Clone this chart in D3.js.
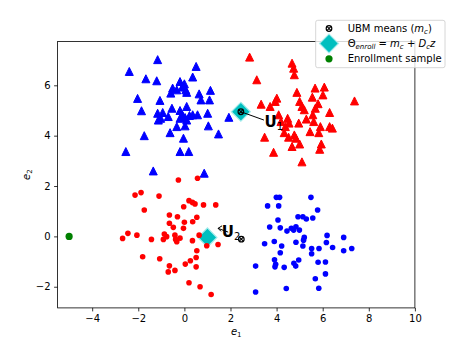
<!DOCTYPE html>
<html><head><meta charset="utf-8">
<script src="https://cdn.jsdelivr.net/npm/d3@7"></script>
<style>
body{margin:0;background:#fff;}
text{font-family:"DejaVu Sans",sans-serif;}
</style></head>
<body><svg id="c" width="461" height="346"></svg>
<script>
const blueTriangles = [[-1.16,7.02],[-2.39,6.55],[-1.67,6.26],[-1.20,6.18],[0.51,6.75],[0.36,6.33],[-0.19,6.15],[0,6.06],[-0.51,5.89],[-0.33,5.82],[-0.59,5.69],[0.06,5.82],[-0.09,5.93],[0.10,5.72],[0.64,5.66],[1.13,5.80],[1.09,5.42],[0.72,5.42],[-2.03,5.48],[-1.06,5.40],[-1.86,4.99],[-1.16,4.89],[-0.94,4.92],[-1.03,4.69],[-0.70,4.76],[-0.54,5.09],[-0.19,5.0],[0.10,5.16],[-0.09,4.83],[-0.19,4.69],[0.03,4.72],[-0.33,4.36],[0.03,4.39],[0.36,4.83],[0.57,4.83],[1.01,4.89],[1.04,4.39],[1.93,4.73],[1.48,4.07],[-0.62,4.12],[-1.74,4.0],[-0.04,3.90],[-0.19,3.37],[0.19,3.37],[-2.54,3.37],[-1.35,2.60],[0.86,2.51],[-1.13,4.62],[0.10,4.62],[0.22,4.80]];
const redTriangles = [[2.83,7.12],[4.67,6.88],[4.74,6.68],[4.77,6.42],[3.14,6.22],[5.67,5.89],[6.07,5.93],[6.01,5.62],[4.88,5.72],[5.55,5.53],[7.38,5.38],[3.33,5.25],[3.72,5.16],[4.01,5.49],[3.94,5.36],[5.0,5.36],[5.1,5.16],[5.20,5.03],[5.80,5.27],[5.68,5.09],[4.09,4.83],[4.48,4.69],[4.54,4.50],[4.38,4.36],[4.19,4.56],[4.96,4.50],[5.29,4.66],[5.57,4.83],[5.61,4.56],[6.30,4.92],[5.90,4.36],[6.30,4.36],[6.42,4.30],[5.45,4.16],[5.83,4.12],[4.33,4.12],[4.52,3.94],[4.77,4.03],[4.84,3.90],[3.48,3.94],[4.67,3.57],[5.0,3.67],[5.94,3.67],[5.87,3.46],[3.87,3.34],[5.1,2.96]];
const redDots = [[-0.26,2.24],[0.57,2.31],[-2.14,1.64],[-1.88,1.74],[-1.10,1.60],[-1.74,1.05],[0.2,1.42],[0.35,1.35],[0.46,1.29],[-0.03,1.18],[0.83,1.25],[1.36,1.25],[-0.65,0.85],[-0.30,0.78],[0.54,0.76],[0,0.56],[0.36,0.58],[-0.65,0.52],[-0.48,0.36],[-0.04,0.32],[-2.45,0.12],[-2.06,0.05],[-2.68,-0.08],[-1.43,-0.12],[-0.87,0.09],[-0.77,-0.01],[-0.91,-0.12],[-0.41,0.05],[-0.38,-0.12],[-0.19,-0.07],[-0.33,-0.21],[0.35,-0.17],[0.64,0.05],[0.97,-0.37],[1.46,-0.32],[0.54,-0.57],[-1.81,-0.81],[-1.07,-0.89],[0.51,-0.84],[0.26,-0.97],[0.04,-1.10],[-0.65,-1.17],[-0.70,-1.41],[-0.41,-1.35],[0.51,-1.21],[0.2,-1.84],[0.68,-2.0],[1.16,-2.31]];
const blueDots = [[3.99,1.55],[4.13,1.55],[5.49,1.55],[3.61,1.21],[4.09,1.21],[5.78,1.05],[4.06,0.65],[4.93,0.78],[5.14,0.78],[5.29,0.69],[5.57,0.73],[3.70,0.37],[4.16,0.34],[4.45,0.21],[4.64,0.32],[4.84,0.38],[4.99,0.25],[4.74,0.25],[6.19,0.04],[6.91,-0.04],[5.2,-0.04],[5.17,-0.15],[3.90,-0.2],[4.84,-0.23],[6.16,-0.24],[3.48,-0.29],[4.22,-0.38],[5.14,-0.38],[6.43,-0.44],[5.52,-0.48],[5.84,-0.48],[7.26,-0.48],[6.91,-0.57],[4.16,-0.65],[5.52,-0.69],[3.91,-0.93],[4.96,-0.94],[3.96,-1.11],[3.93,-1.21],[4.33,-1.23],[4.75,-1.07],[4.83,-1.18],[5.80,-1.03],[6.12,-1.02],[3.09,-1.18],[6.12,-1.49],[5.68,-1.68],[4.42,-2.07],[5.83,-2.06],[3.09,-2.21]];
const ubmMeans = [[2.45,4.95],[2.47,-0.11]];
const enrollMeans = [[2.45,4.95],[1.0,-0.04]];
const enrollSample = [[-5,0]];
const xTicks = [-4,-2,0,2,4,6,8,10];
const yTicks = [-2,0,2,4,6];
const xDomain = [-5.5,10];
const yDomain = [-2.84,7.74];

const svg = d3.select("#c");
const L=57.6,R=414.9,T=41.5,B=307.9;
const x = d3.scaleLinear().domain(xDomain).range([L,R]);
const y = d3.scaleLinear().domain(yDomain).range([B,T]);

const g = svg.append("g");
// diamonds
const diamond = d3.symbol().type(d3.symbolSquare).size(180);
g.selectAll(".dia").data(enrollMeans).join("path")
  .attr("d",diamond)
  .attr("transform",d=>`translate(${x(d[0])},${y(d[1])}) rotate(45)`)
  .attr("fill","#00bfbf").attr("stroke","#a6ecec").attr("stroke-width",1.2);

// matplotlib-style '^' marker (isosceles, width = height)
const triMpl = {draw(ctx,size){const h=Math.sqrt(size)/2;ctx.moveTo(0,-h);ctx.lineTo(h,h);ctx.lineTo(-h,h);ctx.closePath();}};
const tri = d3.symbol().type(triMpl).size(64);
g.selectAll(".bt").data(blueTriangles).join("path").attr("d",tri)
  .attr("transform",d=>`translate(${x(d[0])},${y(d[1])})`)
  .attr("fill","#0000ff").attr("stroke","#0000ff").attr("stroke-width",1);
g.selectAll(".rt").data(redTriangles).join("path").attr("d",tri)
  .attr("transform",d=>`translate(${x(d[0])},${y(d[1])})`)
  .attr("fill","#ff0000").attr("stroke","#ff0000").attr("stroke-width",1);
g.selectAll(".rd").data(redDots).join("circle")
  .attr("cx",d=>x(d[0])).attr("cy",d=>y(d[1])).attr("r",2.8).attr("fill","#ff0000");
g.selectAll(".bd").data(blueDots).join("circle")
  .attr("cx",d=>x(d[0])).attr("cy",d=>y(d[1])).attr("r",2.8).attr("fill","#0000ff");
g.selectAll(".en").data(enrollSample).join("circle")
  .attr("cx",d=>x(d[0])).attr("cy",d=>y(d[1])).attr("r",3.6).attr("fill","#008000");

// U arrows
g.append("line").attr("x1",x(2.45)).attr("y1",y(4.95)).attr("x2",x(3.45)).attr("y2",y(4.62))
  .attr("stroke","#000").attr("stroke-width",1);
g.append("line").attr("x1",x(1.9)).attr("y1",y(0.17)).attr("x2",x(1.46)).attr("y2",y(0.32))
  .attr("stroke","#000").attr("stroke-width",1);
g.append("path").attr("d",`M${x(1.46)+4},${y(0.32)-2.5} L${x(1.46)},${y(0.32)} L${x(1.46)+3},${y(0.32)+3}`)
  .attr("fill","none").attr("stroke","#000").attr("stroke-width",1);

function uLabel(px,py,sub){
  const t=g.append("text").attr("x",px).attr("y",py).attr("font-size",15);
  t.append("tspan").attr("font-weight","bold").text("U");
  t.append("tspan").attr("font-size",10).attr("dy",3).text(sub);
}
uLabel(x(3.48),y(4.36),"1");
uLabel(x(1.62),y(-0.03),"2");

// UBM means ⊗
function otimes(sel,cx,cy,r){
  sel.append("circle").attr("cx",cx).attr("cy",cy).attr("r",r).attr("fill","none").attr("stroke","#000").attr("stroke-width",1.2);
  const k=r*0.72;
  sel.append("path").attr("d",`M${cx-k},${cy-k}L${cx+k},${cy+k}M${cx-k},${cy+k}L${cx+k},${cy-k}`).attr("stroke","#000").attr("stroke-width",1.1);
}
ubmMeans.forEach(d=>otimes(g,x(d[0]),y(d[1]),2.8));

// axes
const ax = svg.append("g").attr("transform",`translate(0,${B})`)
  .call(d3.axisBottom(x).tickValues(xTicks).tickSize(3.5).tickPadding(3.5).tickSizeOuter(0));
const ay = svg.append("g").attr("transform",`translate(${L},0)`)
  .call(d3.axisLeft(y).tickValues(yTicks).tickSize(3.5).tickPadding(3.5).tickSizeOuter(0));
[ax,ay].forEach(a=>{a.select(".domain").remove();
  a.selectAll("line").attr("stroke","#000").attr("stroke-width",0.8);
  a.selectAll("text").attr("font-size",10).attr("font-family","DejaVu Sans").attr("fill","#000");});
svg.append("rect").attr("x",L).attr("y",T).attr("width",R-L).attr("height",B-T)
  .attr("fill","none").attr("stroke","#000").attr("stroke-width",0.8);

// axis labels
const xl=svg.append("text").attr("x",(L+R)/2).attr("y",335).attr("text-anchor","middle").attr("font-size",10);
xl.append("tspan").attr("font-style","italic").text("e");
xl.append("tspan").attr("font-size",7).attr("dy",2).text("1");
const yl=svg.append("text").attr("transform",`translate(30,${(T+B)/2}) rotate(-90)`).attr("text-anchor","middle").attr("font-size",10);
yl.append("tspan").attr("font-style","italic").text("e");
yl.append("tspan").attr("font-size",7).attr("dy",2).text("2");

// legend
const lg=svg.append("g");
lg.append("rect").attr("x",315.7).attr("y",20.3).attr("width",129.3).attr("height",47.4).attr("rx",2)
  .attr("fill","#fff").attr("fill-opacity",0.8).attr("stroke","#cccccc").attr("stroke-width",0.8);
otimes(lg,329,28.5,2.8);
lg.append("path").attr("d",diamond).attr("transform","translate(329,43.5) rotate(45)")
  .attr("fill","#00bfbf").attr("stroke","#a6ecec").attr("stroke-width",1.2);
lg.append("circle").attr("cx",329).attr("cy",58.8).attr("r",3.6).attr("fill","#008000");
const t1=lg.append("text").attr("x",347.7).attr("y",32).attr("font-size",10);
t1.append("tspan").text("UBM means (");
t1.append("tspan").attr("font-style","italic").text("m");
t1.append("tspan").attr("font-style","italic").attr("font-size",7).attr("dy",2).text("c");
t1.append("tspan").attr("dy",-2).text(")");
const t2=lg.append("text").attr("x",347.7).attr("y",47).attr("font-size",10);
t2.append("tspan").text("Θ");
t2.append("tspan").attr("font-style","italic").attr("font-size",7).attr("dy",2).text("enroll");
t2.append("tspan").attr("dy",-2).text(" = ");
t2.append("tspan").attr("font-style","italic").text("m");
t2.append("tspan").attr("font-style","italic").attr("font-size",7).attr("dy",2).text("c");
t2.append("tspan").attr("dy",-2).text(" + ");
t2.append("tspan").attr("font-style","italic").text("D");
t2.append("tspan").attr("font-style","italic").attr("font-size",7).attr("dy",2).text("c");
t2.append("tspan").attr("font-style","italic").attr("dy",-2).text("z");
lg.append("text").attr("x",347.7).attr("y",62.3).attr("font-size",10).text("Enrollment sample");
</script></body></html>
